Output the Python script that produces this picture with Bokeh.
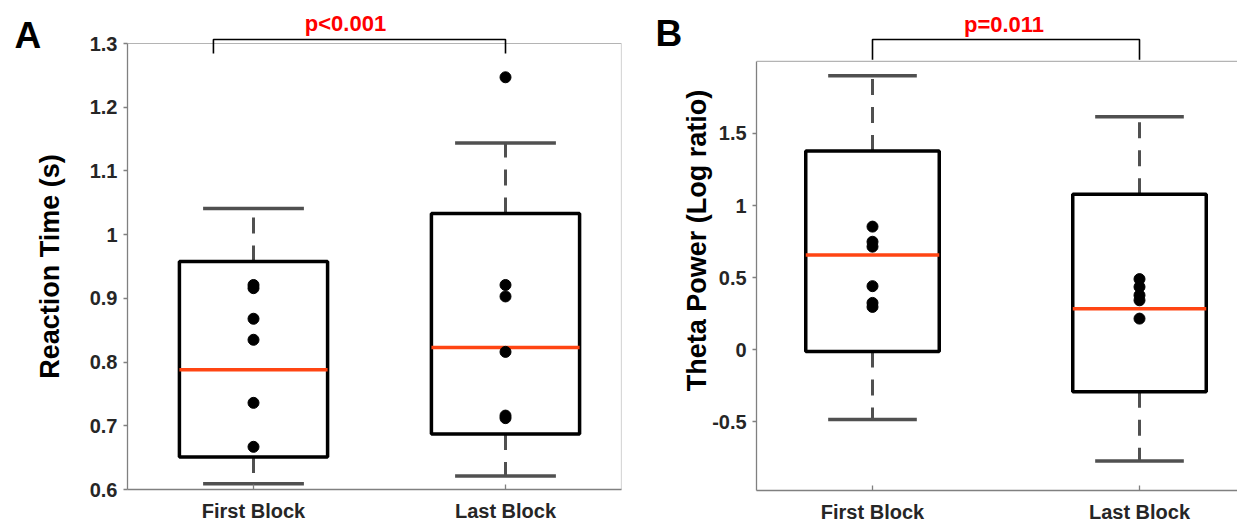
import math
from bokeh.plotting import figure
from bokeh.layouts import row
from bokeh.models import FixedTicker, Range1d
from bokeh.embed import file_html
from bokeh.resources import INLINE
from bokeh.core.properties import value

FONT = "Liberation Sans"

# ---------------- data ----------------
groups = ["First Block", "Last Block"]
group_x = [1, 2]

# Panel A: reaction time (s)
rt_q1 = [0.651, 0.687]
rt_median = [0.788, 0.823]
rt_q3 = [0.958, 1.033]
rt_whisker_low = [0.609, 0.621]
rt_whisker_high = [1.041, 1.144]
rt_first_points = [0.921, 0.916, 0.868, 0.835, 0.736, 0.667]
rt_last_points = [1.247, 0.921, 0.903, 0.816, 0.716, 0.712]
rt_ticks = [0.6, 0.7, 0.8, 0.9, 1.0, 1.1, 1.2, 1.3]
rt_tick_labels = ["0.6", "0.7", "0.8", "0.9", "1", "1.1", "1.2", "1.3"]
rt_ylabel = "Reaction Time (s)"
rt_p_text = "p<0.001"

# Panel B: theta power (log ratio)
th_q1 = [-0.012, -0.291]
th_median = [0.657, 0.285]
th_q3 = [1.379, 1.079]
th_whisker_low = [-0.484, -0.771]
th_whisker_high = [1.901, 1.616]
th_first_points = [0.854, 0.749, 0.715, 0.441, 0.325, 0.297]
th_last_points = [0.490, 0.436, 0.378, 0.343, 0.216]
th_ticks = [-0.5, 0.0, 0.5, 1.0, 1.5]
th_tick_labels = ["-0.5", "0", "0.5", "1", "1.5"]
th_ylabel = "Theta Power (Log ratio)"
th_p_text = "p=0.011"

# ---------------- styling ----------------
AXIS_GRAY = "#808080"
TICK_TEXT = "#262626"
MEDIAN_COLOR = "#ff4513"
WHISKER_COLOR = "#505050"
P_RED = "#ff0000"
H = 524


class Panel:
    """Figure whose frame covers the whole canvas; axes are drawn at fixed
    data locations so that labels, letters and brackets can sit around them."""

    def __init__(self, width, x_at_1, px_per_x, y_ref, y_ref_px, px_per_y):
        self.width = width
        self.x0 = 1 - x_at_1 / px_per_x
        self.x1 = self.x0 + width / px_per_x
        self.ybot = y_ref - (H - y_ref_px) / px_per_y
        self.ytop = self.ybot + H / px_per_y
        self.pxx = px_per_x
        self.pxy = px_per_y
        self.p = figure(width=width, height=H,
                        x_range=Range1d(self.x0, self.x1),
                        y_range=Range1d(self.ybot, self.ytop),
                        output_backend="svg", toolbar_location=None,
                        min_border=0, min_border_left=0, min_border_right=0,
                        min_border_top=0, min_border_bottom=0)
        p = self.p
        p.grid.visible = False
        p.outline_line_color = None
        p.background_fill_color = "white"
        p.border_fill_color = "white"

    def dx(self, px):
        return self.x0 + px / self.pxx

    def dy(self, py):
        return self.ytop - py / self.pxy


def build(panel, ticks, tick_labels, ybounds, xbounds, q1, med, q3, wlo, whi,
          pts_first, pts_last, box_half, cap_half):
    p = panel.p
    p.yaxis.fixed_location = xbounds[0]
    p.xaxis.fixed_location = ybounds[0]
    p.yaxis.ticker = FixedTicker(ticks=ticks)
    p.yaxis.major_label_overrides = {t: l for t, l in zip(ticks, tick_labels)}
    p.yaxis.bounds = ybounds
    p.yaxis.major_tick_out = 4
    p.yaxis.major_tick_in = 0
    p.yaxis.major_label_standoff = 6
    p.xaxis.ticker = FixedTicker(ticks=group_x)
    p.xaxis.major_label_overrides = {x: g for x, g in zip(group_x, groups)}
    p.xaxis.bounds = xbounds
    p.xaxis.major_tick_out = 0
    p.xaxis.major_tick_in = 5
    p.xaxis.major_label_standoff = 10
    for ax in (p.xaxis, p.yaxis):
        ax.minor_tick_line_color = None
        ax.axis_line_color = AXIS_GRAY
        ax.axis_line_width = 1.3
        ax.major_tick_line_color = AXIS_GRAY
        ax.major_tick_line_width = 1.3
        ax.major_label_text_font = FONT
        ax.major_label_text_font_style = "bold"
        ax.major_label_text_font_size = "20px"
        ax.major_label_text_color = TICK_TEXT

    # frame top line
    p.segment(x0=[xbounds[0]], y0=[ybounds[1]], x1=[xbounds[1]], y1=[ybounds[1]],
              line_color="#b4b4b4", line_width=1.2)
    # whiskers (dashed) and caps
    p.segment(x0=group_x, y0=q3, x1=group_x, y1=whi, line_color=WHISKER_COLOR,
              line_width=3, line_dash="16 12")
    p.segment(x0=group_x, y0=q1, x1=group_x, y1=wlo, line_color=WHISKER_COLOR,
              line_width=3, line_dash="16 12")
    p.segment(x0=[x - cap_half for x in group_x], y0=whi,
              x1=[x + cap_half for x in group_x], y1=whi,
              line_color=WHISKER_COLOR, line_width=3.5)
    p.segment(x0=[x - cap_half for x in group_x], y0=wlo,
              x1=[x + cap_half for x in group_x], y1=wlo,
              line_color=WHISKER_COLOR, line_width=3.5)
    # boxes
    p.quad(left=[x - box_half for x in group_x], right=[x + box_half for x in group_x],
           bottom=q1, top=q3, fill_color=None, line_color="black", line_width=3.5)
    # medians
    p.segment(x0=[x - box_half for x in group_x], y0=med,
              x1=[x + box_half for x in group_x], y1=med,
              line_color=MEDIAN_COLOR, line_width=3.5)
    # points
    p.scatter(x=[group_x[0]] * len(pts_first), y=pts_first, size=11, color="black")
    p.scatter(x=[group_x[1]] * len(pts_last), y=pts_last, size=11, color="black")


def annotate(panel, letter, letter_px, ylabel, ylabel_px, ptext, ptext_px,
             bracket_x, bracket_px_top, bracket_px_bottom):
    p = panel.p
    common = dict(text_font=value(FONT), text_font_style="bold",
                  text_baseline="middle")
    p.text(x=[panel.dx(letter_px[0])], y=[panel.dy(letter_px[1])], text=[letter],
           text_font_size="37px", text_color="black", text_align="left", **common)
    p.text(x=[panel.dx(ylabel_px[0])], y=[panel.dy(ylabel_px[1])], text=[ylabel],
           angle=math.pi / 2, text_font_size="27px", text_color="black",
           text_align="center", **common)
    p.text(x=[panel.dx(ptext_px[0])], y=[panel.dy(ptext_px[1])], text=[ptext],
           text_font_size="22px", text_color=P_RED, text_align="center", **common)
    yt = panel.dy(bracket_px_top)
    yb = panel.dy(bracket_px_bottom)
    p.multi_line(xs=[[bracket_x[0], bracket_x[0], bracket_x[1], bracket_x[1]]],
                 ys=[[yb, yt, yt, yb]], line_color="black", line_width=1.6)


# ---------- Panel A (canvas x 0..632) ----------
A = Panel(632, x_at_1=253, px_per_x=252.0, y_ref=0.6, y_ref_px=489, px_per_y=637.14)
build(A, rt_ticks, rt_tick_labels, (0.6, 1.3), (0.5, 2.46),
      rt_q1, rt_median, rt_q3, rt_whisker_low, rt_whisker_high,
      rt_first_points, rt_last_points, 0.294, 0.2)
A.p.segment(x0=[2.46], y0=[0.6], x1=[2.46], y1=[1.3], line_color="#d8d8d8", line_width=1.2)
annotate(A, "A", (14, 34.5), rt_ylabel, (49, 266), rt_p_text, (345, 22.5),
         (0.841, 2.0), 39, 53)

# ---------- Panel B (canvas x 632..1237) ----------
B = Panel(605, x_at_1=240, px_per_x=267.0, y_ref=-0.976, y_ref_px=490, px_per_y=144.2)
build(B, th_ticks, th_tick_labels, (-0.976, 2.0), (0.566, 2.40),
      th_q1, th_median, th_q3, th_whisker_low, th_whisker_high,
      th_first_points, th_last_points, 0.25, 0.166)
annotate(B, "B", (23, 32.5), th_ylabel, (64, 240), th_p_text, (371.5, 24),
         (1.0, 2.0), 39, 59.3)

layout = row(A.p, B.p)
open("out.html", "w").write(file_html(layout, INLINE))
